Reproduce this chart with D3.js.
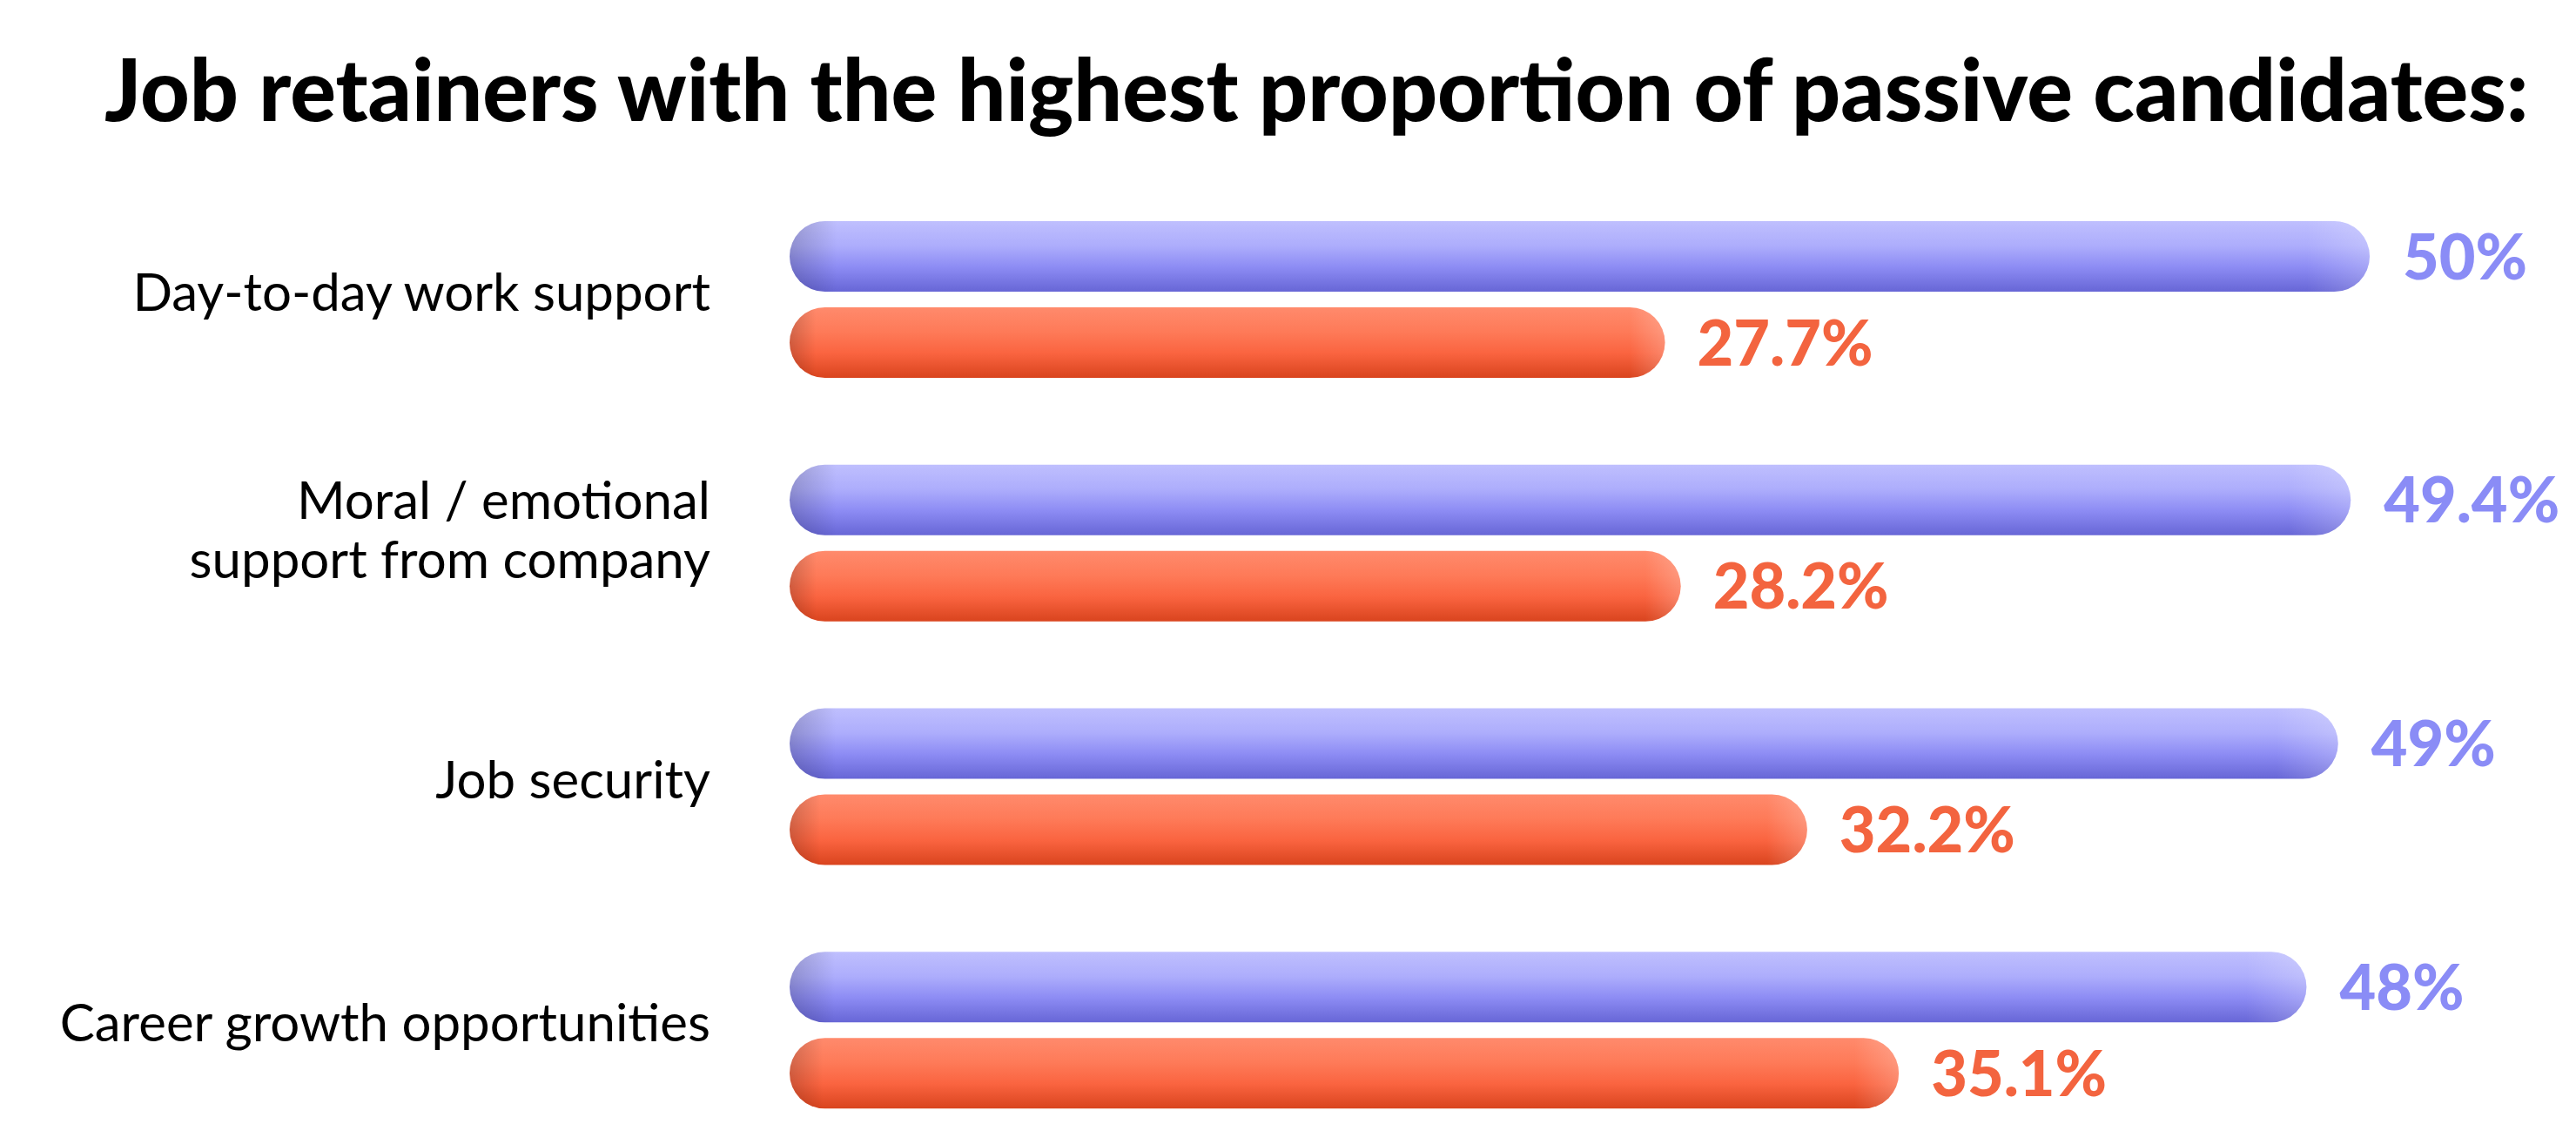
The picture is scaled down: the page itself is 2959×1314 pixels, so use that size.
<!DOCTYPE html>
<html>
<head>
<meta charset="utf-8">
<script src="https://cdn.jsdelivr.net/npm/d3@7"></script>
<style>
  html, body { margin: 0; padding: 0; background: #ffffff; }
  svg { display: block; }
</style>
</head>
<body>
<svg id="chart" width="2959" height="1314"></svg>
<script>
// ---- data ----
const categories = [
  ["Day-to-day work support"],
  ["Moral / emotional", "support from company"],
  ["Job security"],
  ["Career growth opportunities"]
];
const seriesA = [50, 49.4, 49, 48];       // purple bars
const seriesB = [27.7, 28.2, 32.2, 35.1]; // orange bars
const valueLabelsA = ["50%", "49.4%", "49%", "48%"];
const valueLabelsB = ["27.7%", "28.2%", "32.2%", "35.1%"];
const title = "Job retainers with the highest proportion of passive candidates:";

// ---- layout ----
const W = 2959, H = 1314;
const svg = d3.select("#chart");
const font = "Lato, 'Open Sans', sans-serif";

const x = d3.scaleLinear().domain([0, 50]).range([907, 2722]);
const y = d3.scaleBand().domain(d3.range(categories.length)).range([254, 1373]).paddingInner(0).paddingOuter(0);
const barH = 81, barGap = 18;

// gradients
const defs = svg.append("defs");
function vGrad(id, stops) {
  const g = defs.append("linearGradient").attr("id", id).attr("x1", 0).attr("y1", 0).attr("x2", 0).attr("y2", 1);
  stops.forEach(s => g.append("stop").attr("offset", s[0]).attr("stop-color", s[1]));
}
vGrad("gPurple", [[0, "#bfbffe"], [0.35, "#adadfc"], [0.65, "#8d8cf4"], [1, "#6766d6"]]);
vGrad("gOrange", [[0, "#ff8a6c"], [0.35, "#fe7a58"], [0.65, "#fa6440"], [1, "#d9441e"]]);
// left-end shading and right-end highlight
const shade = defs.append("linearGradient").attr("id", "gShade")
  .attr("gradientUnits", "objectBoundingBox").attr("x1", 0).attr("y1", 0).attr("x2", 1).attr("y2", 0);
shade.append("stop").attr("offset", 0).attr("stop-color", "#000").attr("stop-opacity", 0.18);
shade.append("stop").attr("offset", 0.03).attr("stop-color", "#000").attr("stop-opacity", 0);
shade.append("stop").attr("offset", 0.96).attr("stop-color", "#fff").attr("stop-opacity", 0);
shade.append("stop").attr("offset", 1).attr("stop-color", "#fff").attr("stop-opacity", 0.22);

// title
const titleText = svg.append("text")
  .attr("x", 120).attr("y", 139)
  .attr("font-family", font).attr("font-weight", 900).attr("font-size", 94)
  .attr("fill", "#000").text(title);
const tw = titleText.node().getComputedTextLength();
if (tw > 0) titleText.attr("font-size", 94 * Math.min(1.1, Math.max(0.9, 2785 / tw)));

const rows = categories.map((c, i) => ({ cat: c, a: seriesA[i], b: seriesB[i], la: valueLabelsA[i], lb: valueLabelsB[i], i }));

const g = svg.append("g");
const row = g.selectAll("g.row").data(rows).join("g").attr("class", "row");

function drawBar(sel, key, fill, off) {
  sel.append("rect")
    .attr("x", x(0)).attr("y", d => y(d.i) + off)
    .attr("width", d => x(d[key]) - x(0)).attr("height", barH)
    .attr("rx", barH / 2).attr("ry", barH / 2)
    .attr("fill", fill);
  sel.append("rect")
    .attr("x", x(0)).attr("y", d => y(d.i) + off)
    .attr("width", d => x(d[key]) - x(0)).attr("height", barH)
    .attr("rx", barH / 2).attr("ry", barH / 2)
    .attr("fill", "url(#gShade)");
}
drawBar(row, "a", "url(#gPurple)", 0);
drawBar(row, "b", "url(#gOrange)", barH + barGap);

// value labels
row.append("text")
  .attr("x", d => x(d.a) + 38).attr("y", d => y(d.i) + barH / 2 + 26)
  .attr("font-family", font).attr("font-weight", 900).attr("font-size", 72)
  .attr("fill", "#8a8cf6").text(d => d.la);
row.append("text")
  .attr("x", d => x(d.b) + 37).attr("y", d => y(d.i) + barH + barGap + barH / 2 + 26)
  .attr("font-family", font).attr("font-weight", 900).attr("font-size", 72)
  .attr("fill", "#f3643f").text(d => d.lb);

// category labels
row.each(function(d) {
  const center = y(d.i) + barH + barGap / 2;
  const n = d.cat.length;
  const lh = 68;
  const t = d3.select(this).append("text")
    .attr("text-anchor", "end")
    .attr("font-family", font).attr("font-weight", 400).attr("font-size", 60)
    .attr("fill", "#000");
  d.cat.forEach((line, k) => {
    t.append("tspan").attr("x", 816)
      .attr("y", center + 13 + (k - (n - 1) / 2) * lh - (n > 1 ? 7 : 0))
      .text(line);
  });
});
</script>
</body>
</html>
